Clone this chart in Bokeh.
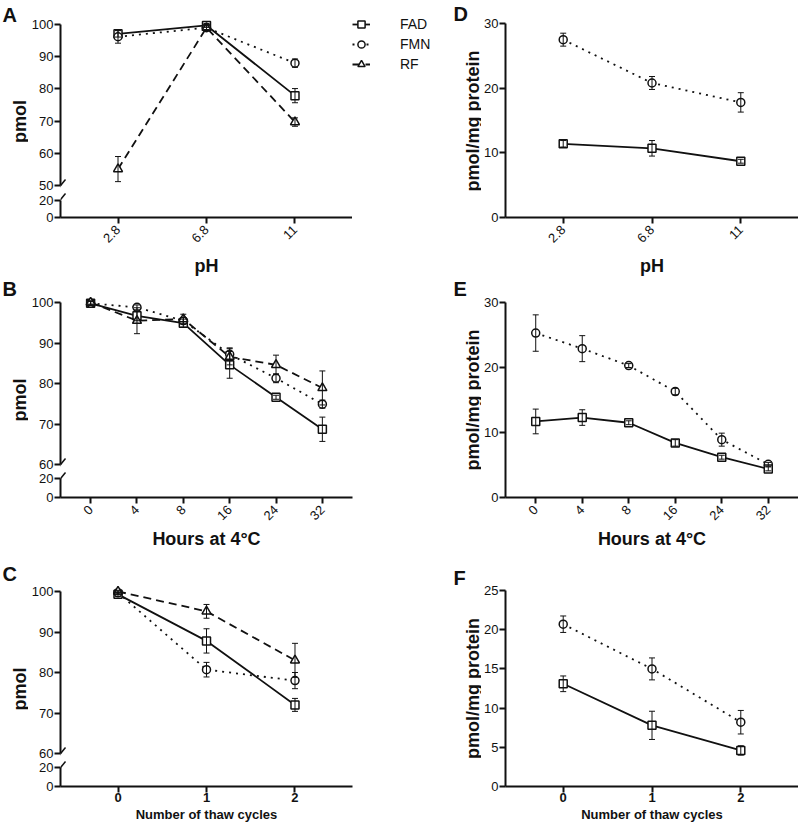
import math
from bokeh.plotting import figure
from bokeh.layouts import column, row
from bokeh.models import (ColumnDataSource, FactorRange, Range1d, FixedTicker,
                          Whisker, TeeHead, Legend, LegendItem, Label, Arrow,
                          CategoricalAxis, LinearAxis)
from bokeh.embed import file_html
from bokeh.resources import INLINE

# ---------------- data ----------------
ph_levels = ["2.8", "6.8", "11"]
hours = ["0", "4", "8", "16", "24", "32"]
thaw_cycles = ["0", "1", "2"]

# A: pmol vs pH
a_fad = [97.1, 99.7, 77.9]
a_fad_err = [1.0, 0.6, 2.2]
a_fmn = [96.2, 99.0, 88.0]
a_fmn_err = [2.0, 0.6, 1.3]
a_rf = [55.1, 99.0, 69.7]
a_rf_err = [3.9, 0.6, 1.3]

# B: pmol vs hours at 4 C
b_fad = [99.8, 96.7, 94.9, 84.6, 76.6, 68.7]
b_fad_err = [0.5, 1.2, 1.0, 3.3, 0.5, 3.0]
b_fmn = [99.8, 98.8, 95.5, 87.2, 81.3, 74.9]
b_fmn_err = [0.5, 0.6, 0.8, 1.6, 1.1, 1.0]
b_rf = [100.0, 95.5, 95.9, 86.6, 84.6, 78.9]
b_rf_err = [0.4, 3.2, 1.2, 2.0, 2.4, 4.2]

# C: pmol vs thaw cycles
c_fad = [99.3, 87.8, 72.0]
c_fad_err = [0.5, 3.0, 1.6]
c_fmn = [99.7, 80.7, 78.0]
c_fmn_err = [0.4, 1.8, 2.0]
c_rf = [100.0, 95.1, 83.0]
c_rf_err = [0.3, 1.7, 4.2]

# D: pmol/mg protein vs pH
d_fmn = [27.5, 20.8, 17.8]
d_fmn_err = [1.0, 1.0, 1.5]
d_fad = [11.4, 10.7, 8.7]
d_fad_err = [0.5, 1.2, 0.3]

# E: pmol/mg protein vs hours
e_fmn = [25.3, 22.9, 20.3, 16.3, 8.9, 5.1]
e_fmn_err = [2.8, 2.0, 0.3, 0.5, 1.0, 0.3]
e_fad = [11.7, 12.3, 11.5, 8.4, 6.2, 4.4]
e_fad_err = [1.9, 1.2, 0.3, 0.5, 0.3, 0.3]

# F: pmol/mg protein vs thaw cycles
f_fmn = [20.7, 15.0, 8.2]
f_fmn_err = [1.05, 1.4, 1.5]
f_fad = [13.1, 7.8, 4.6]
f_fad_err = [1.0, 1.8, 0.6]

series_names = ["FAD", "FMN", "RF"]

# ---------------- styling / layout ----------------
FONT = "Liberation Sans"
INK = "#111111"

STYLES = {
    "FAD": dict(dash="solid", marker="square", size=8),
    "FMN": dict(dash="2 5", marker="circle", size=8),
    "RF": dict(dash="8 5", marker="triangle", size=9),
}

STRIP_L, STRIP_R = 28, 29          # widths of the letter / y-title strips
BL_L, BL_R = 29, 22                # space for tick labels
FRAME_W = 295
BR_L = 100                         # room right of the left panels (legend)
PAD = 0.15                         # category padding at both ends

# rows of the left column (pixels from the top of the page)
ROW_A = dict(start=0, end=278, top=17, hi=24, lo=185, y20=200, y0=218)
ROW_B = dict(start=278, end=562, top=294, hi=302, lo=464, y20=478, y0=497)
ROW_C = dict(start=562, end=825, top=583, hi=591, lo=753, y20=767, y0=786)
# rows of the right column
ROW_D = dict(start=0, end=278, top=23, y0=218)
ROW_E = dict(start=278, end=562, top=302, y0=497)
ROW_F = dict(start=562, end=825, top=590, y0=786)


def base_fig(x_range, y_range, width, height, bl, br, bt, bb):
    p = figure(x_range=x_range, y_range=y_range, width=width, height=height,
               output_backend="svg", toolbar_location=None,
               x_axis_type=None, y_axis_type=None,
               min_border_left=bl, min_border_right=br,
               min_border_top=bt, min_border_bottom=bb)
    p.outline_line_color = None
    p.background_fill_color = "white"
    p.border_fill_color = "white"
    return p


def plain_fig(width, height):
    return base_fig(Range1d(0, 1), Range1d(0, 1), width, height, 0, 0, 0, 0)


def style_axis(ax, size="13px", bold=False, standoff=1):
    ax.axis_line_width = 2
    ax.axis_line_color = INK
    ax.major_tick_line_width = 2
    ax.major_tick_line_color = INK
    ax.major_tick_out = 6
    ax.major_tick_in = 0
    ax.minor_tick_line_color = None
    ax.major_label_text_font = FONT
    ax.major_label_text_font_size = size
    ax.major_label_text_color = INK
    ax.major_label_text_font_style = "bold" if bold else "normal"
    ax.major_label_standoff = standoff


def draw(p, cats, name, vals, errs):
    st = STYLES[name]
    src = ColumnDataSource(dict(
        x=cats, y=vals,
        lo=[v - e for v, e in zip(vals, errs)],
        hi=[v + e for v, e in zip(vals, errs)]))
    p.line("x", "y", source=src, line_color=INK, line_width=1.8,
           line_dash=st["dash"])
    p.scatter("x", "y", source=src, marker=st["marker"], size=st["size"],
              line_color=INK, line_width=1.5, fill_color="white")
    p.add_layout(Whisker(source=src, base="x", upper="hi", lower="lo",
                         dimension="height", line_color=INK, line_width=1,
                         level="annotation",
                         upper_head=TeeHead(size=6, line_color=INK, line_width=1),
                         lower_head=TeeHead(size=6, line_color=INK, line_width=1)))


def value_range(v_a, px_a, v_b, px_b, top_px, bot_px):
    k = (v_b - v_a) / (px_b - px_a)
    return Range1d(v_a + (bot_px - px_a) * k, v_a + (top_px - px_a) * k)


def strip(width, rowg, letter, letter_x, letter_top, ytitle, ycenter):
    h = rowg["end"] - rowg["start"]
    p = plain_fig(width, h)
    p.add_layout(Label(x=letter_x, y=h - (letter_top - rowg["start"]) + 4,
                       x_units="screen", y_units="screen", text=letter,
                       text_font=FONT, text_font_size="20px",
                       text_font_style="bold", text_color=INK,
                       text_baseline="top", text_align="left"))
    p.add_layout(Label(x=width - 9, y=h - (ycenter - rowg["start"]),
                       x_units="screen", y_units="screen", text=ytitle,
                       angle=math.pi / 2, text_font=FONT,
                       text_font_size="18px", text_font_style="bold",
                       text_color=INK, text_align="center",
                       text_baseline="middle"))
    return column(p, spacing=0)


def slash(p, y):
    p.add_layout(Arrow(x_start=-4, y_start=y - 5, x_end=5, y_end=y + 6,
                       start_units="screen", end_units="screen",
                       start=None, end=None, line_color=INK, line_width=1.5))


def xaxis(p, label, rotate, label_standoff, small=False):
    ax = CategoricalAxis()
    if small:
        style_axis(ax, size="13px", bold=True, standoff=0)
    else:
        style_axis(ax, size="13px", standoff=4)
    if rotate:
        ax.major_label_orientation = math.pi / 4
    ax.axis_label = label
    ax.axis_label_text_font = FONT
    ax.axis_label_text_font_size = "13px" if small else "18px"
    ax.axis_label_text_font_style = "bold"
    ax.axis_label_text_color = INK
    ax.axis_label_standoff = label_standoff
    p.add_layout(ax, "below")


def left_panel(cats, series, lo, up_ticks, xlabel, g, rotate, label_standoff,
               br, small=False):
    xr = FactorRange(*cats, range_padding=PAD, range_padding_units="absolute")
    mid = (g["lo"] + g["y20"]) // 2
    width = BL_L + FRAME_W + br
    # upper part of the broken axis
    pu = base_fig(xr, value_range(100, g["hi"], lo, g["lo"], g["top"], mid),
                  width, mid - g["start"], BL_L, br, g["top"] - g["start"], 0)
    yax = LinearAxis(ticker=FixedTicker(ticks=up_ticks, minor_ticks=[]),
                     bounds=(lo, 100))
    style_axis(yax)
    pu.add_layout(yax, "left")
    for name, vals, errs in series:
        draw(pu, cats, name, vals, errs)
    slash(pu, mid - g["lo"])
    # lower part (0-20)
    pl = base_fig(xr, value_range(20, g["y20"], 0, g["y0"], mid, g["y0"]),
                  width, g["end"] - mid, BL_L, br, 0, g["end"] - g["y0"])
    yax2 = LinearAxis(ticker=FixedTicker(ticks=[0, 20], minor_ticks=[]),
                      bounds=(0, 20))
    style_axis(yax2)
    pl.add_layout(yax2, "left")
    xaxis(pl, xlabel, rotate, label_standoff, small)
    slash(pl, g["y0"] - g["y20"])
    return column(pu, pl, spacing=0)


def right_panel(cats, series, ymax, yticks, xlabel, g, rotate, label_standoff,
                small=False):
    xr = FactorRange(*cats, range_padding=PAD, range_padding_units="absolute")
    bt = g["top"] - g["start"]
    bb = g["end"] - g["y0"]
    p = base_fig(xr, Range1d(0, ymax), BL_R + FRAME_W, g["end"] - g["start"],
                 BL_R, 0, bt, bb)
    yax = LinearAxis(ticker=FixedTicker(ticks=yticks, minor_ticks=[]))
    style_axis(yax)
    p.add_layout(yax, "left")
    xaxis(p, xlabel, rotate, label_standoff, small)
    for name, vals, errs in series:
        draw(p, cats, name, vals, errs)
    return column(p, spacing=0)


def legend_fig(width, height, top):
    p = plain_fig(width, height)
    items = []
    for name in series_names:
        st = STYLES[name]
        src = ColumnDataSource(dict(x=[float("nan")], y=[float("nan")]))
        ln = p.line("x", "y", source=src, line_color=INK, line_width=1.8,
                    line_dash=st["dash"])
        sc = p.scatter("x", "y", source=src, marker=st["marker"],
                       size=st["size"], line_color=INK, line_width=1.5,
                       fill_color="white")
        items.append(LegendItem(label=name, renderers=[ln, sc]))
    lg = Legend(items=items, location=(0, height - top - 60),
                orientation="vertical", glyph_width=18, glyph_height=20,
                label_height=20, spacing=0, padding=0, margin=0,
                label_standoff=30, label_text_font=FONT,
                label_text_font_size="14px", label_text_color=INK,
                border_line_color=None, background_fill_alpha=0)
    p.add_layout(lg)
    return column(p, spacing=0)


# ---------------- panels ----------------
row_a = row(
    strip(STRIP_L, ROW_A, "A", 2, 7, "pmol", (ROW_A["hi"] + ROW_A["y0"]) / 2),
    left_panel(ph_levels,
               [("FAD", a_fad, a_fad_err), ("FMN", a_fmn, a_fmn_err),
                ("RF", a_rf, a_rf_err)],
               50, [50, 60, 70, 80, 90, 100], "pH", ROW_A, True, 6, 0),
    legend_fig(BR_L, ROW_A["end"] - ROW_A["start"], 14),
    spacing=0)
row_b = row(
    strip(STRIP_L, ROW_B, "B", 2, 281, "pmol", (ROW_B["hi"] + ROW_B["y0"]) / 2),
    left_panel(hours,
               [("FAD", b_fad, b_fad_err), ("FMN", b_fmn, b_fmn_err),
                ("RF", b_rf, b_rf_err)],
               60, [60, 70, 80, 90, 100], "Hours at 4°C", ROW_B, True, 2, BR_L),
    spacing=0)
row_c = row(
    strip(STRIP_L, ROW_C, "C", 2, 566, "pmol", (ROW_C["hi"] + ROW_C["y0"]) / 2),
    left_panel(thaw_cycles,
               [("FAD", c_fad, c_fad_err), ("FMN", c_fmn, c_fmn_err),
                ("RF", c_rf, c_rf_err)],
               60, [60, 70, 80, 90, 100], "Number of thaw cycles", ROW_C,
               False, 2, BR_L, small=True),
    spacing=0)

row_d = row(
    strip(STRIP_R, ROW_D, "D", 1, 6, "pmol/mg protein",
          (ROW_D["top"] + ROW_D["y0"]) / 2),
    right_panel(ph_levels,
                [("FMN", d_fmn, d_fmn_err), ("FAD", d_fad, d_fad_err)],
                30, [0, 10, 20, 30], "pH", ROW_D, True, 6),
    spacing=0)
row_e = row(
    strip(STRIP_R, ROW_E, "E", 1, 281, "pmol/mg protein",
          (ROW_E["top"] + ROW_E["y0"]) / 2),
    right_panel(hours,
                [("FMN", e_fmn, e_fmn_err), ("FAD", e_fad, e_fad_err)],
                30, [0, 10, 20, 30], "Hours at 4°C", ROW_E, True, 2),
    spacing=0)
row_f = row(
    strip(STRIP_R, ROW_F, "F", 1, 570, "pmol/mg protein",
          (ROW_F["top"] + ROW_F["y0"]) / 2),
    right_panel(thaw_cycles,
                [("FMN", f_fmn, f_fmn_err), ("FAD", f_fad, f_fad_err)],
                25, [0, 5, 10, 15, 20, 25], "Number of thaw cycles", ROW_F,
                False, 2, small=True),
    spacing=0)

layout = row(column(row_a, row_b, row_c, spacing=0),
             column(row_d, row_e, row_f, spacing=0),
             spacing=0)

open("out.html", "w").write(file_html(layout, INLINE, title="Flavin stability"))
